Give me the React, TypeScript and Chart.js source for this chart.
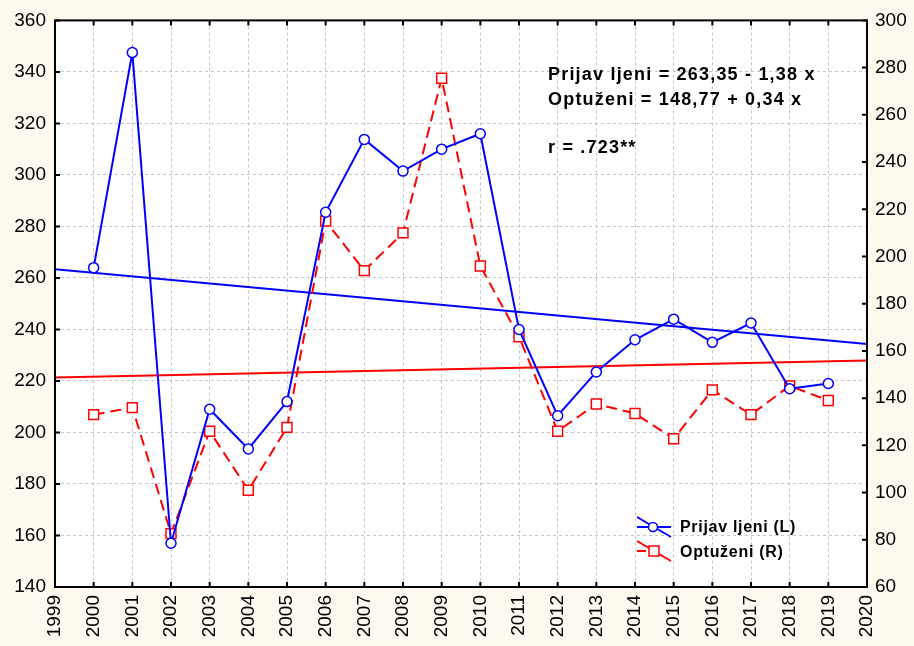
import React, { useEffect, useRef } from "react";
import { Chart, registerables } from "chart.js";

Chart.register(...registerables);

const years = [2000, 2001, 2002, 2003, 2004, 2005, 2006, 2007, 2008, 2009, 2010, 2011, 2012, 2013, 2014, 2015, 2016, 2017, 2018, 2019];
const prijavljeni = [264, 347.5, 157, 209, 193.6, 212, 285.5, 313.8, 301.5, 310, 316, 240, 206.5, 223.5, 236, 244, 235, 242.5, 217, 219];
const optuzeni = [133, 136, 82.6, 126, 101, 127.6, 215, 194, 210, 275.5, 196, 166, 126, 137.5, 133.5, 122.8, 143.5, 133, 145.2, 139];

// regression coefficients (x = year - 1999)
const regP = { a: 263.35, b: -1.38 };
const regO = { a: 148.77, b: 0.34 };

const xMin = 1999;
const xMax = 2020;
const yLeftMin = 140;
const yLeftMax = 360;
const yRightMin = 60;
const yRightMax = 300;
const tickStep = 20;

const seriesNames = ["Prijav ljeni (L)", "Optuženi (R)"];
const annotationLines = ["Prijav ljeni = 263,35 - 1,38 x", "Optuženi = 148,77 + 0,34 x", "r = .723**"];

const BG = "#fdf9ee";
const BLUE = "#0000ff";
const RED = "#ff0000";
const FONT = "'Liberation Sans', Arial, sans-serif";

export default function App() {
  const ref = useRef<HTMLCanvasElement | null>(null);

  useEffect(() => {
    document.body.style.margin = "0";
    const canvas = ref.current;
    if (!canvas) return;

    const framePlugin = {
      id: "frame",
      beforeDraw(chart: any) {
        const { ctx, chartArea: a } = chart;
        ctx.save();
        ctx.fillStyle = BG;
        ctx.fillRect(0, 0, chart.width, chart.height);
        ctx.fillStyle = "#ffffff";
        ctx.fillRect(a.left, a.top, a.right - a.left, a.bottom - a.top);
        ctx.restore();
      },
      afterDraw(chart: any) {
        const { ctx, chartArea: a, scales } = chart;
        ctx.save();
        ctx.strokeStyle = "#000";
        ctx.lineWidth = 2;
        ctx.strokeRect(a.left, a.top, a.right - a.left, a.bottom - a.top);
        const tl = 5;
        ctx.beginPath();
        for (let v = xMin; v <= xMax; v++) {
          const px = scales.x.getPixelForValue(v);
          ctx.moveTo(px, a.top);
          ctx.lineTo(px, a.top + tl);
          ctx.moveTo(px, a.bottom);
          ctx.lineTo(px, a.bottom - tl);
        }
        for (let v = yLeftMin; v <= yLeftMax; v += tickStep) {
          const py = scales.y.getPixelForValue(v);
          ctx.moveTo(a.left, py);
          ctx.lineTo(a.left + tl, py);
        }
        for (let v = yRightMin; v <= yRightMax; v += tickStep) {
          const py = scales.y1.getPixelForValue(v);
          ctx.moveTo(a.right, py);
          ctx.lineTo(a.right - tl, py);
        }
        ctx.stroke();

        // annotation text
        ctx.fillStyle = "#000";
        ctx.font = `bold 18px ${FONT}`;
        ctx.textBaseline = "middle";
        ctx.textAlign = "left";
        try { (ctx as any).letterSpacing = "1.2px"; } catch (e) {}
        ctx.fillText(annotationLines[0], 548, 75);
        ctx.fillText(annotationLines[1], 548, 100);
        ctx.fillText(annotationLines[2], 548, 148);

        // legend
        ctx.lineWidth = 2;
        ctx.strokeStyle = BLUE;
        ctx.beginPath();
        ctx.moveTo(637, 527); ctx.lineTo(671, 527);
        ctx.moveTo(637, 517); ctx.lineTo(671, 537);
        ctx.stroke();
        ctx.fillStyle = "#fff";
        ctx.lineWidth = 1.5;
        ctx.beginPath();
        ctx.arc(653, 527, 4.5, 0, Math.PI * 2);
        ctx.fill();
        ctx.stroke();

        ctx.lineWidth = 2;
        ctx.strokeStyle = RED;
        ctx.beginPath();
        ctx.moveTo(637, 551); ctx.lineTo(646, 551);
        ctx.moveTo(637, 541); ctx.lineTo(671, 561);
        ctx.stroke();
        ctx.lineWidth = 1.5;
        ctx.fillStyle = "#fff";
        ctx.fillRect(649, 546, 10, 10);
        ctx.strokeRect(649, 546, 10, 10);

        ctx.fillStyle = "#000";
        ctx.font = `bold 16px ${FONT}`;
        try { (ctx as any).letterSpacing = "0.7px"; } catch (e) {}
        ctx.fillText(seriesNames[0], 680, 528);
        ctx.fillText(seriesNames[1], 680, 553);
        ctx.restore();
      },
    };

    const chart = new Chart(canvas, {
      type: "line",
      data: {
        datasets: [
          {
            label: seriesNames[0],
            data: years.map((x, i) => ({ x, y: prijavljeni[i] })),
            yAxisID: "y",
            borderColor: BLUE,
            borderWidth: 2,
            pointStyle: "circle",
            pointRadius: 5,
            pointBackgroundColor: "#fff",
            pointBorderColor: BLUE,
            pointBorderWidth: 1.5,
            order: 1,
          },
          {
            label: seriesNames[1],
            data: years.map((x, i) => ({ x, y: optuzeni[i] })),
            yAxisID: "y1",
            borderColor: RED,
            borderWidth: 2,
            borderDash: [11, 6],
            pointStyle: "rect",
            pointRadius: 7,
            pointBackgroundColor: "#fff",
            pointBorderColor: RED,
            pointBorderWidth: 1.5,
            order: 2,
          },
          {
            label: "regP",
            data: [
              { x: xMin, y: regP.a },
              { x: xMax, y: regP.a + regP.b * (xMax - xMin) },
            ],
            yAxisID: "y",
            borderColor: BLUE,
            borderWidth: 2,
            pointRadius: 0,
            order: 3,
          },
          {
            label: "regO",
            data: [
              { x: xMin, y: regO.a },
              { x: xMax, y: regO.a + regO.b * (xMax - xMin) },
            ],
            yAxisID: "y1",
            borderColor: RED,
            borderWidth: 2,
            pointRadius: 0,
            order: 4,
          },
        ],
      },
      options: {
        animation: false,
        responsive: false,
        devicePixelRatio: 1,
        layout: { padding: { top: 18, left: 0, right: 0, bottom: 0 } },
        plugins: { legend: { display: false }, tooltip: { enabled: false } },
        scales: {
          x: {
            type: "linear",
            position: "bottom",
            min: xMin,
            max: xMax,
            ticks: {
              stepSize: 1,
              autoSkip: false,
              maxRotation: 90,
              minRotation: 90,
              padding: 8,
              color: "#000",
              font: { family: FONT, size: 19 },
              callback: (v: any) => String(v),
            },
            grid: { color: "#c4c4c4", lineWidth: 1, drawTicks: false },
            border: { display: false, dash: [3, 3] },
            afterFit: (s: any) => { s.height = 59; },
          },
          y: {
            position: "left",
            min: yLeftMin,
            max: yLeftMax,
            ticks: { stepSize: tickStep, padding: 9, color: "#000", font: { family: FONT, size: 19 } },
            grid: { color: "#c4c4c4", lineWidth: 1, drawTicks: false },
            border: { display: false, dash: [3, 3] },
            afterFit: (s: any) => { s.width = 55; },
          },
          y1: {
            position: "right",
            min: yRightMin,
            max: yRightMax,
            ticks: { stepSize: tickStep, padding: 8, color: "#000", font: { family: FONT, size: 19 } },
            grid: { display: false, drawTicks: false },
            border: { display: false },
            afterFit: (s: any) => { s.width = 47; },
          },
        },
      },
      plugins: [framePlugin],
    });

    return () => chart.destroy();
  }, []);

  return (
    <div style={{ width: 914, height: 646, background: BG }}>
      <canvas ref={ref} width={914} height={646} style={{ display: "block" }} />
    </div>
  );
}
